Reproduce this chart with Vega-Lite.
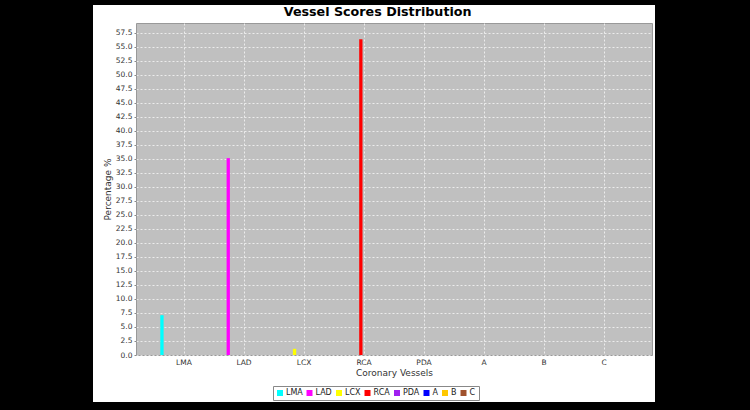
{
  "$schema": "https://vega.github.io/schema/vega-lite/v6.json",
  "padding": 0,
  "background": "white",
  "config": {"font": "DejaVu Sans", "view": {"stroke": null}},
  "spacing": 0,
  "resolve": {"scale": {"color": "independent"}, "legend": {"color": "independent"}},
  "hconcat": [
    {"width": 93, "height": 410, "view": {"fill": "black", "stroke": null}, "data": {"values": []}, "mark": "point", "encoding": {}},
    {
      "spacing": 0,
      "resolve": {"scale": {"color": "independent"}, "legend": {"color": "independent"}},
      "vconcat": [
        {"width": 562, "height": 5, "view": {"fill": "black", "stroke": null}, "data": {"values": []}, "mark": "point", "encoding": {}},
        {
          "spacing": 0,
          "resolve": {"scale": {"color": "independent"}, "legend": {"color": "independent"}},
          "hconcat": [
            {"width": 9, "height": 379, "view": {"fill": "white", "stroke": null}, "data": {"values": []}, "mark": "point", "encoding": {}},
            {
              "width": 516,
              "height": 332,
              "title": {"text": "Vessel Scores Distribution", "font": "DejaVu Sans", "fontSize": 12.7, "fontWeight": "bold", "color": "black", "anchor": "middle", "frame": "bounds", "offset": 4},
              "view": {"fill": "#c0c0c0", "stroke": "#999999", "strokeWidth": 1},
              "data": {"values": [
                {"vessel": "LMA", "pct": 7.1},
                {"vessel": "LAD", "pct": 35.1},
                {"vessel": "LCX", "pct": 1.1},
                {"vessel": "RCA", "pct": 56.3},
                {"vessel": "PDA", "pct": 0},
                {"vessel": "A", "pct": 0},
                {"vessel": "B", "pct": 0},
                {"vessel": "C", "pct": 0}
              ]},
              "mark": {"type": "bar"},
              "encoding": {
                "x": {
                  "field": "vessel", "type": "nominal",
                  "sort": ["LMA", "LAD", "LCX", "RCA", "PDA", "A", "B", "C"],
                  "scale": {"domain": ["LMA", "LAD", "LCX", "RCA", "PDA", "A", "B", "C"], "paddingInner": 0, "paddingOuter": 0.3},
                  "axis": {
                    "title": "Coronary Vessels", "titleFontSize": 9, "titleFontWeight": "normal", "titleColor": "#333333", "titlePadding": 3,
                    "labelAngle": 0, "labelFontSize": 7.5, "labelColor": "#333333", "labelPadding": 3,
                    "ticks": false, "domain": false,
                    "grid": true, "bandPosition": 0.5, "gridColor": "#ffffff", "gridOpacity": 0.7, "gridDash": [2, 2], "gridWidth": 1
                  }
                },
                "xOffset": {
                  "field": "vessel", "type": "nominal",
                  "scale": {"domain": ["LMA", "LAD", "LCX", "RCA", "PDA", "A", "B", "C"], "paddingInner": 0.475, "paddingOuter": 1.4875}
                },
                "y": {
                  "field": "pct", "type": "quantitative",
                  "scale": {"domain": [0, 59.2], "nice": false, "zero": true},
                  "axis": {
                    "title": "Percentage %", "titleFontSize": 9, "titleFontWeight": "normal", "titleColor": "#333333", "titlePadding": 3,
                    "values": [0, 2.5, 5, 7.5, 10, 12.5, 15, 17.5, 20, 22.5, 25, 27.5, 30, 32.5, 35, 37.5, 40, 42.5, 45, 47.5, 50, 52.5, 55, 57.5],
                    "format": ".1f", "labelFontSize": 7.5, "labelColor": "#333333", "labelPadding": 2,
                    "tickSize": 2, "tickColor": "#888888", "domain": false,
                    "grid": true, "gridColor": "#ffffff", "gridOpacity": 0.7, "gridDash": [2, 2], "gridWidth": 1
                  }
                },
                "color": {
                  "field": "vessel", "type": "nominal",
                  "scale": {"domain": ["LMA", "LAD", "LCX", "RCA", "PDA", "A", "B", "C"], "range": ["#00ffff", "#ff00ff", "#ffff00", "#ff0000", "#a020f0", "#0000ff", "#ffc800", "#a0522d"]},
                  "legend": {
                    "orient": "none", "legendX": 137, "legendY": 363, "direction": "horizontal", "columns": 8, "title": null,
                    "symbolType": "square", "symbolSize": 36, "symbolStrokeWidth": 0,
                    "labelFontSize": 8, "labelColor": "#222222", "labelOffset": 2, "columnPadding": 2.5,
                    "strokeColor": "#888888", "padding": 3
                  }
                }
              }
            }
          ]
        },
        {"width": 562, "height": 8, "view": {"fill": "black", "stroke": null}, "data": {"values": []}, "mark": "point", "encoding": {}}
      ]
    },
    {"width": 95, "height": 410, "view": {"fill": "black", "stroke": null}, "data": {"values": []}, "mark": "point", "encoding": {}}
  ]
}
